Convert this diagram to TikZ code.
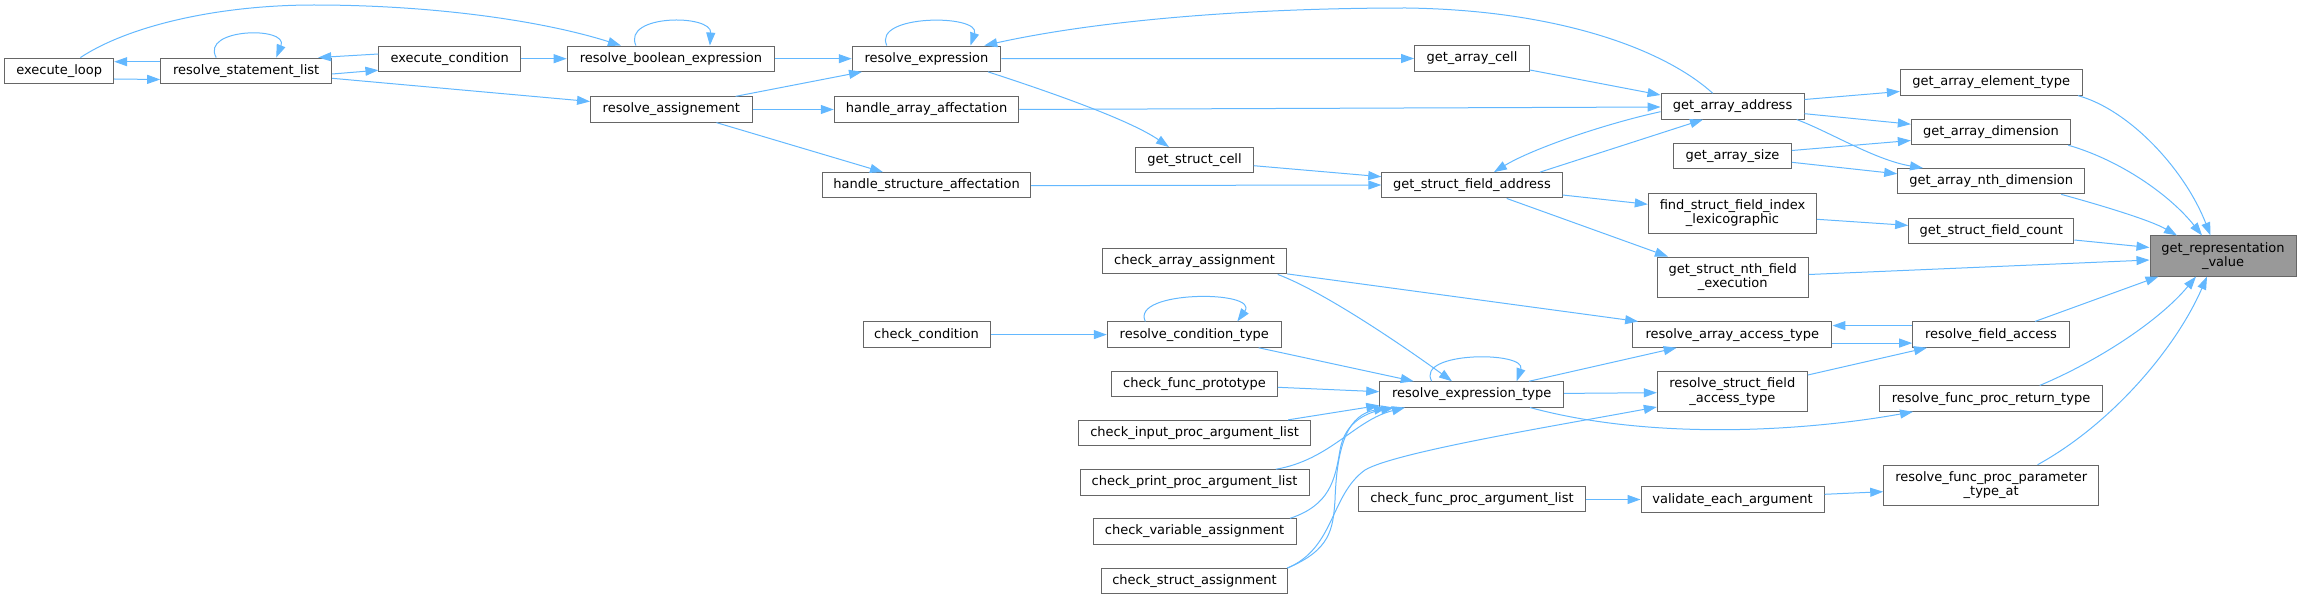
\documentclass[tikz,border=0pt]{standalone}
\usepackage{fontspec}
\setmainfont{DejaVu Sans}
\usetikzlibrary{arrows.meta,calc}
\definecolor{edgeblue}{HTML}{63B8FF}
\definecolor{boxgray}{HTML}{666666}
\definecolor{rootfill}{HTML}{999999}
\begin{document}
\begin{tikzpicture}[x=1pt,y=-1pt,
  fn/.style={draw=boxgray, line width=1pt, fill=white, inner sep=0pt,
    minimum height=25.3pt, font=\fontsize{13}{14.5}\selectfont, align=center},
  two/.style={minimum height=40.1pt},
  calls/.style={draw=edgeblue, line width=1pt, -{Triangle[length=13pt,width=9pt]}}]
\useasboundingbox (0,0) rectangle (2301,599);
% nodes
\node[fn, minimum width=109] (exloop) at (59.2,70.7) {execute\_loop};
\node[fn, minimum width=171] (rsl) at (246.2,70.7) {resolve\_statement\_list};
\node[fn, minimum width=141.6] (excond) at (449.7,58.7) {execute\_condition};
\node[fn, minimum width=207.4] (rbe) at (670.9,58.7) {resolve\_boolean\_expression};
\node[fn, minimum width=161.5] (rassign) at (671.3,109.5) {resolve\_assignement};
\node[fn, minimum width=148.5] (rexpr) at (926.5,58.7) {resolve\_expression};
\node[fn, minimum width=184.5] (haa) at (926.5,109.5) {handle\_array\_affectation};
\node[fn, minimum width=208.2] (hsa) at (926.6,185.3) {handle\_structure\_affectation};
\node[fn, minimum width=127] (ccond) at (926.5,334.6) {check\_condition};
\node[fn, minimum width=114.8] (gac) at (1472,58.5) {get\_array\_cell};
\node[fn, minimum width=117.5] (gsc) at (1194.5,160.2) {get\_struct\_cell};
\node[fn, minimum width=180.3] (gsfa) at (1471.9,185.3) {get\_struct\_field\_address};
\node[fn, minimum width=184.4] (caa) at (1194.5,261.3) {check\_array\_assignment};
\node[fn, minimum width=174] (rct) at (1194.3,334.6) {resolve\_condition\_type};
\node[fn, minimum width=165.6] (cfp) at (1194.5,384) {check\_func\_prototype};
\node[fn, minimum width=232] (cipal) at (1194.6,433) {check\_input\_proc\_argument\_list};
\node[fn, minimum width=229] (cppal) at (1194.5,482.4) {check\_print\_proc\_argument\_list};
\node[fn, minimum width=203] (cva) at (1194.5,531.5) {check\_variable\_assignment};
\node[fn, minimum width=186.7] (csa) at (1194.5,581.2) {check\_struct\_assignment};
\node[fn, minimum width=184] (ret) at (1471.7,394.4) {resolve\_expression\_type};
\node[fn, minimum width=227] (cfpal) at (1472,499.2) {check\_func\_proc\_argument\_list};
\node[fn, minimum width=143] (gaa) at (1732.5,106.4) {get\_array\_address};
\node[fn, minimum width=117.6] (gas) at (1732.5,155.8) {get\_array\_size};
\node[fn, two, minimum width=168.4] (fsfil) at (1732.5,213.1) {find\_struct\_field\_index\\\_lexicographic};
\node[fn, two, minimum width=151.3] (gsnfe) at (1732.7,277.1) {get\_struct\_nth\_field\\\_execution};
\node[fn, minimum width=199.3] (raat) at (1732.3,334.6) {resolve\_array\_access\_type};
\node[fn, two, minimum width=150] (rsfat) at (1732.3,391.7) {resolve\_struct\_field\\\_access\_type};
\node[fn, minimum width=183] (vea) at (1732.5,499.6) {validate\_each\_argument};
\node[fn, minimum width=181.7] (gaet) at (1991.2,82.5) {get\_array\_element\_type};
\node[fn, minimum width=159.4] (gad) at (1991,132) {get\_array\_dimension};
\node[fn, minimum width=187] (gand) at (1991.2,181.2) {get\_array\_nth\_dimension};
\node[fn, minimum width=165.3] (gsfc) at (1991.3,230.7) {get\_struct\_field\_count};
\node[fn, minimum width=156.6] (rfa) at (1991,334.6) {resolve\_field\_access};
\node[fn, minimum width=222.6] (rfprt) at (1991,398.6) {resolve\_func\_proc\_return\_type};
\node[fn, two, minimum width=215] (rfppta) at (1991.2,485.3) {resolve\_func\_proc\_parameter\\\_type\_at};
\node[fn, two, minimum width=146, fill=rootfill] (grv) at (2223,256) {get\_representation\\\_value};
% edges
\draw[calls] ($(exloop.east)+(0,8.3)$) -- ($(rsl.west)+(0,8.8)$);
\draw[calls] ($(rsl.west)+(0,-9)$) -- ($(exloop.east)+(0,-9)$);
\draw[calls] ($(rsl.north)+(-30,0)$) .. controls (200,28) and (289,26) .. ($(rsl.north)+(30,0)$);
\draw[calls] ($(excond.west)+(0,-4.7)$) -- ($(rsl.north east)+(-14,0)$);
\draw[calls] ($(rsl.east)+(0,3.3)$) -- ($(excond.west)+(0,11.5)$);
\draw[calls] ($(rsl.east)+(0,7.6)$) -- ($(rassign.west)+(0,-8)$);
\draw[calls] (excond.east) -- (rbe.west);
\draw[calls] ($(exloop.north)+(21.2,0)$) .. controls (130,25) and (220,5) .. (314,5)
  .. controls (430,5) and (540,20) .. ($(rbe.north)+(-50,0)$);
\draw[calls] ($(rbe.north)+(-35,0)$) .. controls (622,14) and (712,14) .. ($(rbe.north)+(39,0)$);
\draw[calls] (rbe.east) -- (rexpr.west);
\draw[calls] ($(rassign.north)+(64.3,0)$) -- ($(rexpr.south)+(-64.5,0)$);
\draw[calls] (rassign.east) -- (haa.west);
\draw[calls] ($(rassign.south)+(45.2,0)$) -- ($(hsa.north)+(-43.6,0)$);
\draw[calls] ($(rexpr.north)+(-39.7,0)$) .. controls (872,14) and (981,14) .. ($(rexpr.north)+(44,0)$);
\draw[calls] ($(gaa.north)+(-19.8,0)$) .. controls (1665,50) and (1560,10) .. (1406,8)
  .. controls (1250,8) and (1100,20) .. ($(rexpr.north east)+(-17,0)$);
\draw[calls] (rexpr.east) -- (gac.west);
\draw[calls] ($(rexpr.south)+(61.5,0)$) .. controls (1050,92) and (1130,120) .. ($(gsc.north)+(-25.5,0)$);
\draw[calls] (haa.east) -- ($(gaa.west)+(0,0.6)$);
\draw[calls] ($(hsa.east)+(0,0.3)$) -- ($(gsfa.west)+(0,-0.3)$);
\draw[calls] ($(gsc.east)+(0,5.5)$) -- ($(gsfa.west)+(0,-8.6)$);
\draw[calls] ($(gac.east)+(0,11.5)$) -- ($(gaa.west)+(0,-11.4)$);
\draw[calls] ($(gaa.west)+(0,5.3)$) .. controls (1600,125) and (1530,150) .. ($(gsfa.north)+(22,0)$);
\draw[calls] ($(gsfa.north)+(68,0)$) -- ($(gaa.south)+(-29.5,0)$);
\draw[calls] ($(gsfa.east)+(0,9.7)$) -- ($(fsfil.west)+(0,-8.8)$);
\draw[calls] ($(gsfa.south)+(34.8,0)$) -- ($(gsnfe.north)+(-64.7,0)$);
\draw[calls] ($(gaa.east)+(0,-6.9)$) -- ($(gaet.west)+(0,9)$);
\draw[calls] ($(gaa.east)+(0,7.3)$) -- ($(gad.west)+(0,-7.8)$);
\draw[calls] ($(gaa.south)+(64.2,0)$) .. controls (1830,132) and (1875,160) .. ($(gand.north)+(-68.2,0)$);
\draw[calls] ($(gas.east)+(0,-5.3)$) -- ($(gad.west)+(0,8.5)$);
\draw[calls] ($(gas.east)+(0,6.5)$) -- ($(gand.west)+(0,-7.4)$);
\draw[calls] ($(fsfil.east)+(0,6.2)$) -- ($(gsfc.west)+(0,-5.3)$);
\draw[calls] ($(gaet.south)+(86.8,0)$) .. controls (2130,110) and (2185,170) .. ($(grv.north)+(-12.5,0)$);
\draw[calls] ($(gad.south)+(77,0)$) .. controls (2120,160) and (2170,195) .. ($(grv.north)+(-21,0)$);
\draw[calls] ($(gand.south)+(70,0)$) .. controls (2100,205) and (2150,220) .. ($(grv.north)+(-46,0)$);
\draw[calls] ($(gsfc.east)+(0,9.3)$) -- ($(grv.west)+(0,-8.5)$);
\draw[calls] ($(gsnfe.east)+(0,-2.6)$) -- ($(grv.west)+(0,4)$);
\draw[calls] ($(rfa.north)+(44,0)$) -- ($(grv.south)+(-64.5,0)$);
\draw[calls] ($(rfprt.north)+(48.7,0)$) .. controls (2100,360) and (2160,320) .. ($(grv.south)+(-27,0)$);
\draw[calls] ($(rfppta.north)+(46.3,0)$) .. controls (2110,425) and (2175,350) .. ($(grv.south)+(-16,0)$);
\draw[calls] ($(rfa.west)+(0,-9)$) -- ($(raat.east)+(0,-9)$);
\draw[calls] ($(raat.east)+(0,8.5)$) -- ($(rfa.west)+(0,8.5)$);
\draw[calls] ($(rsfat.east)+(0,-16.7)$) -- ($(rfa.south)+(-64,0)$);
\draw[calls] ($(caa.east)+(0,12.6)$) -- ($(raat.north west)+(6,0)$);
\draw[calls] ($(ret.north)+(57.3,0)$) -- ($(raat.south)+(-55.6,0)$);
\draw[calls] ($(ret.east)+(0,-1)$) -- ($(rsfat.west)+(0,1)$);
\draw[calls] ($(csa.north east)+(-1,0)$) .. controls (1335,548) and (1330,495) .. (1365,470)
  .. controls (1395,452) and (1560,425) .. ($(rsfat.west)+(0,15.3)$);
\draw[calls] ($(ret.south)+(58.3,0)$) .. controls (1650,440) and (1800,432) .. ($(rfprt.south)+(-78,0)$);
\draw[calls] ($(cfpal.east)+(0,0.3)$) -- ($(vea.west)+(0,-0.1)$);
\draw[calls] ($(vea.east)+(0,-5.3)$) -- ($(rfppta.west)+(0,6.4)$);
\draw[calls] ($(ret.north)+(-40,0)$) .. controls (1415,351) and (1527,351) .. ($(ret.north)+(45,0)$);
\draw[calls] ($(caa.south)+(83.2,0)$) .. controls (1320,290) and (1395,340) .. ($(ret.north)+(-19.7,0)$);
\draw[calls] ($(rct.south)+(64.3,0)$) -- ($(ret.north)+(-58,0)$);
\draw[calls] ($(cfp.east)+(0,3.3)$) -- ($(ret.west)+(0,-2.7)$);
\draw[calls] ($(cipal.north east)+(-23,0)$) -- ($(ret.west)+(0,11)$);
\draw[calls] ($(cppal.north)+(81.3,0)$) .. controls (1330,460) and (1355,420) .. ($(ret.south)+(-66.7,0)$);
\draw[calls] ($(cva.north)+(95.5,0)$) .. controls (1330,505) and (1335,480) .. (1340,450)
  .. controls (1345,420) and (1370,412) .. ($(ret.south)+(-77.7,0)$);
\draw[calls] ($(csa.north east)+(-1,0)$) .. controls (1330,550) and (1333,530) .. (1335,500)
  .. controls (1337,440) and (1350,415) .. ($(ret.south)+(-84.7,0)$);
\draw[calls] (ccond.east) -- (rct.west);
\draw[calls] ($(rct.north)+(-49,0)$) .. controls (1130,290) and (1260,290) .. ($(rct.north)+(43,0)$);
\end{tikzpicture}
\end{document}
